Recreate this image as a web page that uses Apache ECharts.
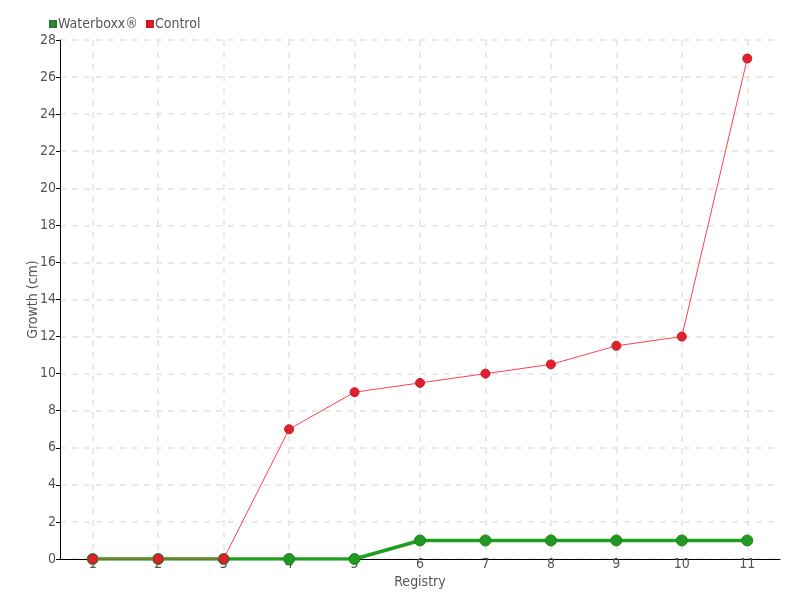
<!DOCTYPE html>
<html>
<head>
<meta charset="utf-8">
<script src="https://cdn.jsdelivr.net/npm/echarts@6/dist/echarts.min.js"></script>
<style>
  html, body { margin: 0; padding: 0; background: #fff; }
  #chart { width: 800px; height: 600px; }
</style>
</head>
<body>
<div id="chart"></div>
<script>
// data
const registry = ['1', '2', '3', '4', '5', '6', '7', '8', '9', '10', '11']
const waterboxx = [0, 0, 0, 0, 0, 1, 1, 1, 1, 1, 1]
const control = [0, 0, 0, 7, 9, 9.5, 10, 10.5, 11.5, 12, 27]

const font = '"Liberation Sans Narrow", "DejaVu Sans Condensed", sans-serif'
const textColor = '#555'

const chart = echarts.init(document.getElementById('chart'))

const option = {
  animation: false,
  textStyle: { fontFamily: font },
  legend: {
    left: 44,
    top: 12,
    itemWidth: 6,
    itemHeight: 6,
    itemGap: 8,
    icon: 'rect',
    textStyle: { fontFamily: font, fontSize: 14, color: textColor, padding: [0, 0, 0, -3] },
    data: ['Waterboxx®', 'Control']
  },
  grid: { left: 60, right: 20, top: 40, bottom: 41 },
  xAxis: {
    type: 'category',
    data: registry,
    boundaryGap: true,
    name: 'Registry',
    nameLocation: 'middle',
    nameGap: 16,
    nameMoveOverlap: false,
    nameTextStyle: { fontFamily: font, fontSize: 14, color: textColor },
    axisLine: { lineStyle: { color: '#000', width: 1 } },
    axisTick: { alignWithLabel: true, length: 5, lineStyle: { color: '#000' } },
    axisLabel: { fontFamily: font, fontSize: 14, color: textColor, margin: -2 },
    splitLine: { show: true, alignWithLabel: true, lineStyle: { color: '#e4e4e4', type: [6, 6], width: 1.5 } }
  },
  yAxis: {
    type: 'value',
    min: 0,
    max: 28,
    interval: 2,
    name: 'Growth (cm)',
    nameLocation: 'middle',
    nameGap: 20,
    nameMoveOverlap: false,
    nameTextStyle: { fontFamily: font, fontSize: 14, color: textColor },
    axisLine: { show: true, lineStyle: { color: '#000', width: 1 } },
    axisTick: { show: true, length: 4, lineStyle: { color: '#000' } },
    axisLabel: { fontFamily: font, fontSize: 14, color: textColor, margin: 4 },
    splitLine: { show: true, lineStyle: { color: '#e4e4e4', type: [6, 6], width: 1.5 } }
  },
  series: [
    {
      name: 'Waterboxx®',
      type: 'line',
      data: waterboxx,
      color: '#1ea01e',
      symbol: 'circle',
      symbolSize: 11,
      lineStyle: { color: '#1ea01e', width: 3.5 },
      itemStyle: { color: '#1e9a1e', borderColor: '#2c7a2c', borderWidth: 1 },
      z: 2
    },
    {
      name: 'Control',
      type: 'line',
      data: control,
      color: '#e8202c',
      symbol: 'circle',
      symbolSize: 9,
      lineStyle: { color: '#ff4050', width: 1 },
      itemStyle: { color: '#e0202a', borderColor: '#c81a24', borderWidth: 1 },
      z: 3
    }
  ]
}

chart.setOption(option)
</script>
</body>
</html>
